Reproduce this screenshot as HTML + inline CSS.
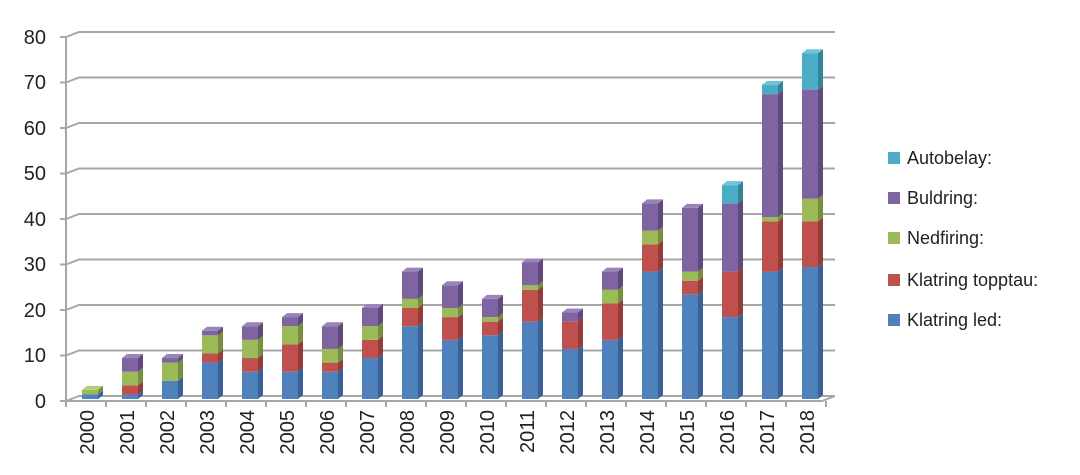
<!DOCTYPE html>
<html><head><meta charset="utf-8"><style>
html,body{margin:0;padding:0;background:#fff;}
svg{display:block;font-family:"Liberation Sans",sans-serif;}
</style></head><body>
<svg id="c" width="1080" height="475" viewBox="0 0 1080 475" xmlns="http://www.w3.org/2000/svg">
<g stroke="#a6a6a6" stroke-width="2" fill="none">
<polyline points="66,401 79,396 835,396"/>
<polyline points="66,355.5 79,350.5 835,350.5"/>
<polyline points="66,310 79,305 835,305"/>
<polyline points="66,264.5 79,259.5 835,259.5"/>
<polyline points="66,219 79,214 835,214"/>
<polyline points="66,173.5 79,168.5 835,168.5"/>
<polyline points="66,128 79,123 835,123"/>
<polyline points="66,82.5 79,77.5 835,77.5"/>
<polyline points="66,37 79,32 835,32"/>
<line x1="66" y1="37" x2="66" y2="401"/>
<line x1="60" y1="401" x2="66" y2="401"/><line x1="60" y1="355.5" x2="66" y2="355.5"/>
<line x1="60" y1="310" x2="66" y2="310"/><line x1="60" y1="264.5" x2="66" y2="264.5"/>
<line x1="60" y1="219" x2="66" y2="219"/><line x1="60" y1="173.5" x2="66" y2="173.5"/>
<line x1="60" y1="128" x2="66" y2="128"/><line x1="60" y1="82.5" x2="66" y2="82.5"/>
<line x1="60" y1="37" x2="66" y2="37"/>
<polyline points="66,401 822,401 835,396"/>
</g>
<g id="ticks" stroke="#a6a6a6" stroke-width="2"></g>
<g id="bars"></g>
<g font-size="20" fill="#222" text-anchor="end">
<text x="46" y="408">0</text><text x="46" y="362">10</text><text x="46" y="317">20</text>
<text x="46" y="271">30</text><text x="46" y="226">40</text><text x="46" y="180">50</text>
<text x="46" y="135">60</text><text x="46" y="89">70</text><text x="46" y="44">80</text>
</g>
<g font-size="20" fill="#222" text-anchor="end">
<text transform="translate(94,410) rotate(-90)">2000</text>
<text transform="translate(134,410) rotate(-90)">2001</text>
<text transform="translate(174,410) rotate(-90)">2002</text>
<text transform="translate(214,410) rotate(-90)">2003</text>
<text transform="translate(254,410) rotate(-90)">2004</text>
<text transform="translate(294,410) rotate(-90)">2005</text>
<text transform="translate(334,410) rotate(-90)">2006</text>
<text transform="translate(374,410) rotate(-90)">2007</text>
<text transform="translate(414,410) rotate(-90)">2008</text>
<text transform="translate(454,410) rotate(-90)">2009</text>
<text transform="translate(494,410) rotate(-90)">2010</text>
<text transform="translate(534,410) rotate(-90)">2011</text>
<text transform="translate(574,410) rotate(-90)">2012</text>
<text transform="translate(614,410) rotate(-90)">2013</text>
<text transform="translate(654,410) rotate(-90)">2014</text>
<text transform="translate(694,410) rotate(-90)">2015</text>
<text transform="translate(734,410) rotate(-90)">2016</text>
<text transform="translate(774,410) rotate(-90)">2017</text>
<text transform="translate(814,410) rotate(-90)">2018</text>
</g>
<g font-size="18" fill="#222">
<rect x="888" y="152" width="12" height="12" fill="#4BACC6"/><text x="907" y="164">Autobelay:</text>
<rect x="888" y="192" width="12" height="12" fill="#8064A2"/><text x="907" y="204">Buldring:</text>
<rect x="888" y="232" width="12" height="12" fill="#9BBB59"/><text x="907" y="244">Nedfiring:</text>
<rect x="888" y="274" width="12" height="12" fill="#C0504D"/><text x="907" y="286">Klatring topptau:</text>
<rect x="888" y="314" width="12" height="12" fill="#4F81BD"/><text x="907" y="326">Klatring led:</text>
</g>
</svg>
<script>
var data=[[1,0,1,0,0],[1,2,3,3,0],[4,0,4,1,0],[8,2,4,1,0],[6,3,4,3,0],[6,6,4,2,0],[6,2,3,5,0],[9,4,3,4,0],[16,4,2,6,0],[13,5,2,5,0],[14,3,1,4,0],[17,7,1,5,0],[11,6,0,2,0],[13,8,3,4,0],[28,6,3,6,0],[23,3,2,14,0],[18,10,0,15,4],[28,11,1,27,2],[29,10,5,24,8]];
var front=["#4F81BD","#C0504D","#9BBB59","#8064A2","#4BACC6"];
var side=["#3a6296","#943c3a","#76903f","#5f4a7b","#33849a"];
var top_=["#6f9bd0","#d27370","#b2cd7a","#9a82ba","#6ec3d9"];
var ns="http://www.w3.org/2000/svg",g=document.getElementById("bars"),tk=document.getElementById("ticks");
function el(p,t,a){var e=document.createElementNS(ns,t);for(var k in a)e.setAttribute(k,a[k]);p.appendChild(e);return e;}
for(var k=0;k<=19;k++){var x=66+40*k;el(tk,"line",{x1:x,y1:401,x2:x,y2:407});}
var s=4.55,b=399,w=16,dx=5,dy=4;
data.forEach(function(d,i){var x=66+40*i+16,cum=0;
 d.forEach(function(v,j){if(!v)return;var y0=b-cum*s,y1=b-(cum+v)*s;cum+=v;
  el(g,"rect",{x:x,y:y1,width:w,height:y0-y1,fill:front[j]});
  el(g,"polygon",{points:(x+w)+","+y0+" "+(x+w+dx)+","+(y0-dy)+" "+(x+w+dx)+","+(y1-dy)+" "+(x+w)+","+y1,fill:side[j]});
 });
 var yt=b-cum*s,lj=0;for(var j=4;j>=0;j--)if(d[j]){lj=j;break;}
 el(g,"polygon",{points:x+","+yt+" "+(x+w)+","+yt+" "+(x+w+dx)+","+(yt-dy)+" "+(x+dx)+","+(yt-dy),fill:top_[lj]});
});
</script>
</body></html>
